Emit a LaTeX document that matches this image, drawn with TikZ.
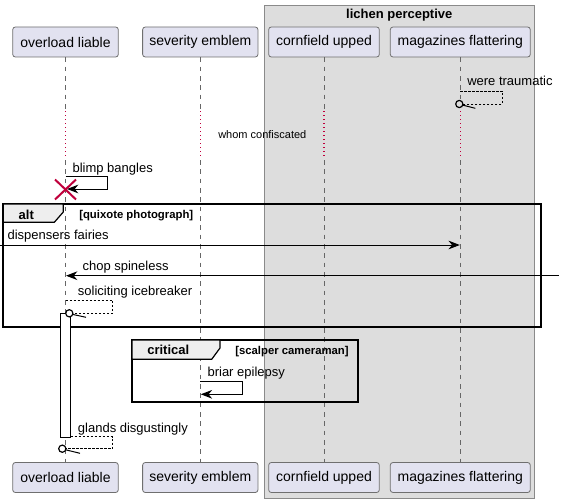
\documentclass[tikz,border=0pt]{standalone}
\usepackage{fontspec}
\setmainfont{Liberation Sans}
\usetikzlibrary{arrows.meta,calc}
\definecolor{partfill}{HTML}{E2E2F0}
\definecolor{boxborder}{HTML}{6F6F6F}
\definecolor{groupfill}{HTML}{DDDDDD}
\definecolor{groupborder}{HTML}{8A8A8A}
\definecolor{lifegray}{HTML}{666666}
\definecolor{crimson}{HTML}{C0003C}
\definecolor{tabfill}{HTML}{EEEEEE}
\begin{document}
\begin{tikzpicture}[x=0.75pt,y=-0.75pt,
  part/.style={draw=boxborder, fill=partfill, rounded corners=2pt, inner sep=0pt, minimum height=22.5pt, line width=0.6pt, font=\fontsize{10.5}{12}\selectfont},
  life/.style={draw=lifegray, dash pattern=on 3.5pt off 3.5pt, line width=0.6pt},
  delay/.style={draw=crimson, dash pattern=on 0.9pt off 2.1pt, line width=0.9pt},
  msg/.style={draw=black, line width=0.75pt},
  tip/.style={-{Stealth[length=8.5pt,width=6.5pt,inset=2.7pt]}},
  ret/.style={draw=black, line width=0.6pt, dash pattern=on 1.8pt off 1.2pt},
  lbl/.style={font=\fontsize{9.75}{11}\selectfont, anchor=base west, inner sep=0pt},
  guard/.style={font=\bfseries\fontsize{8.5}{10}\selectfont, anchor=base west, inner sep=0pt},
  fkind/.style={font=\bfseries\fontsize{9.75}{11}\selectfont, anchor=base, inner sep=0pt},
  frm/.style={draw=black, line width=1.4pt},
  tabshape/.style={draw=black, fill=tabfill, line width=0.9pt},
  openend/.style={draw=black, line width=0.9pt}
]
\useasboundingbox (0,0) rectangle (564,503);
% group box
\draw[draw=groupborder, fill=groupfill, line width=0.75pt] (264.3,6) rectangle (534.3,498);
\node[font=\bfseries\fontsize{9.75}{11}\selectfont, anchor=base, inner sep=0pt] (grp) at (399.3,18.3) {lichen perceptive};

% participants top
\node[part, minimum width=79.2pt] (olT) at (65.5,42) {overload liable};
\node[part, minimum width=86.5pt] (seT) at (200.3,42) {severity emblem};
\node[part, minimum width=83pt] (cuT) at (324,42) {cornfield upped};
\node[part, minimum width=105pt] (mfT) at (460.3,42) {magazines flattering};
% participants bottom
\node[part, minimum width=79.2pt] (olB) at (65.5,477.5) {overload liable};
\node[part, minimum width=86.5pt] (seB) at (200.3,477.5) {severity emblem};
\node[part, minimum width=83pt] (cuB) at (324,477.5) {cornfield upped};
\node[part, minimum width=105pt] (mfB) at (460.3,477.5) {magazines flattering};

% lifelines
\foreach \p in {ol,se,cu}{
  \draw[life] (\p T.south) -- (\p T.south |- 0,110);
  \draw[delay] (\p T.south |- 0,111) -- (\p T.south |- 0,158);
  \draw[life] (\p T.south |- 0,160) -- (\p B.north);
}
\draw[life] (mfT.south) -- (mfT.south |- 0,100);
\draw[delay] (mfT.south |- 0,111) -- (mfT.south |- 0,158);
\draw[life] (mfT.south |- 0,160) -- (mfB.north);

% were traumatic
\node[lbl] (l1) at (467,86) {were traumatic};
\coordinate (c1) at (459.3,104);
\draw[ret] (mfT.south |- 0,91) -- (502.3,91) -- (502.3,104) -- ($(c1)+(4,0)$);
\draw[openend, fill=groupfill] (c1) circle[radius=3.6];
\draw[openend, line width=0.75pt] ($(c1)+(3.8,1.2)$) -- (475.3,108.3);

% delay text
\node[font=\fontsize{8.25}{10}\selectfont, anchor=base west, inner sep=0pt] (dl) at (218,138) {whom confiscated};

% blimp bangles
\node[lbl] (l2) at (72.3,172) {blimp bangles};
\draw[msg, tip] (olT.south |- 0,176) -- (107.7,176) -- (107.7,189) -- ($(olT.south |- 0,189)+(1.5,0)$);
\draw[draw=crimson, line width=1.5pt] (55,179.5) -- (76,199.5) (55,199.5) -- (76,179.5);

% alt frame
\draw[frm] (3.3,204) rectangle (541,326.7);
\draw[tabshape] (3.3,204) -- (63.3,204) -- (63.3,212) -- (54.3,222.3) -- (3.3,222.3) -- cycle;
\node[fkind] (alt) at (26.3,219) {alt};
\node[guard] (g1) at (79,218.3) {[quixote photograph]};

% dispensers fairies
\node[lbl] (l3) at (7.3,239) {dispensers fairies};
\coordinate (lft) at (0,245);
\draw[msg, tip] (lft) -- ($(mfT.south |- 0,245)+(-0.5,0)$);

% chop spineless
\node[lbl] (l4) at (82.3,270.7) {chop spineless};
\coordinate (rgt) at (558.7,275.7);
\draw[msg, tip] (rgt) -- ($(olT.south |- 0,275.7)+(0.5,0)$);

% activation bar
\draw[draw=black, fill=white, line width=0.75pt] (60.3,313.3) rectangle (70.7,437);

% soliciting icebreaker
\node[lbl] (l5) at (77.7,295.3) {soliciting icebreaker};
\coordinate (c2) at (69.3,313.3);
\draw[ret] (olT.south |- 0,300) -- (112.7,300) -- (112.7,313.3) -- ($(c2)+(4,0)$);
\draw[openend, fill=white] (c2) circle[radius=3.6];
\draw[openend, line width=0.75pt] ($(c2)+(3.8,1.2)$) -- (86,317.3);

% critical frame
\draw[frm] (132,340) rectangle (358.3,402.3);
\draw[tabshape] (132,340) -- (220,340) -- (220,348) -- (211.7,359.3) -- (132,359.3) -- cycle;
\node[fkind] (crit) at (168.3,354.7) {critical};
\node[guard] (g2) at (235,354.7) {[scalper cameraman]};

% briar epilepsy
\node[lbl] (l6) at (207.3,376.7) {briar epilepsy};
\draw[msg, tip] (seT.south |- 0,381.7) -- (242.7,381.7) -- (242.7,394.3) -- ($(seT.south |- 0,394.3)+(0.5,0)$);

% glands disgustingly
\node[lbl] (l7) at (77.7,432) {glands disgustingly};
\coordinate (c3) at (62.3,448.7);
\draw[ret] (70.7,436.7) -- (112.7,436.7) -- (112.7,448.7) -- ($(c3)+(4,0)$);
\draw[openend, fill=white] (c3) circle[radius=3.6];
\draw[openend, line width=0.75pt] ($(c3)+(3.8,1.2)$) -- (80,453.3);
\end{tikzpicture}
\end{document}
